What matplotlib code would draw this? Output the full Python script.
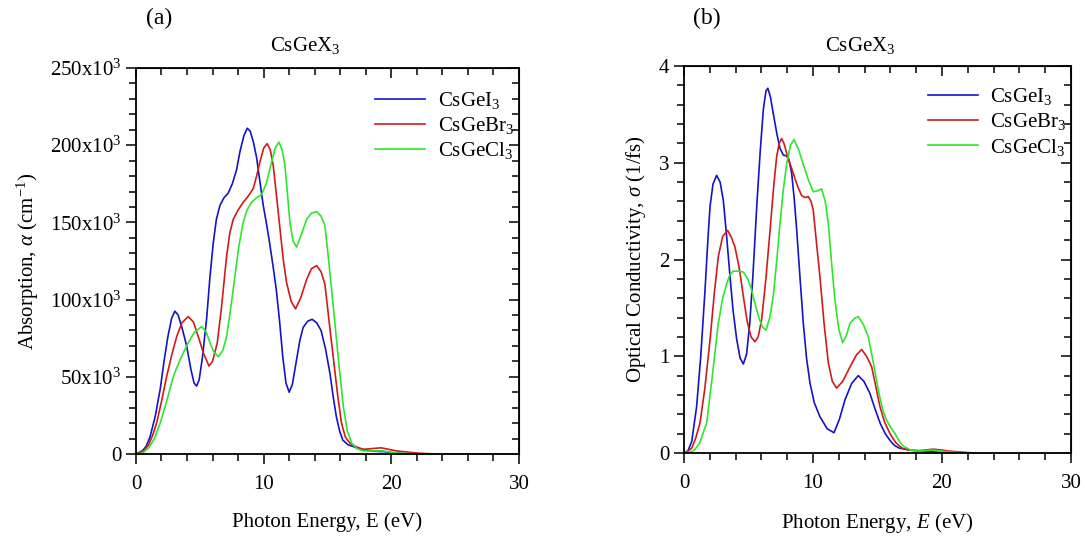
import matplotlib
matplotlib.use("Agg")
import matplotlib.pyplot as plt
from matplotlib.ticker import MultipleLocator, FuncFormatter

plt.rcParams["font.family"] = ["Liberation Serif", "DejaVu Serif"]
plt.rcParams["mathtext.fontset"] = "custom"
plt.rcParams["mathtext.rm"] = "Liberation Serif"
plt.rcParams["mathtext.it"] = "Liberation Serif:italic"

# (a) absorption: photon energy (eV) and alpha (cm^-1)
abs_i_e = [0, 0.5, 0.8, 1.1, 1.5, 1.9, 2.2, 2.5, 2.8, 3.05, 3.3, 3.6, 3.97, 4.3, 4.55, 4.75,
           4.95, 5.2, 5.54, 5.8, 6.06, 6.3, 6.58, 6.9, 7.23, 7.55, 7.88, 8.15, 8.45, 8.72,
           8.95, 9.2, 9.45, 9.7, 9.97, 10.25, 10.5, 10.75, 11.0, 11.25, 11.5, 11.75, 12.0,
           12.25, 12.6, 12.85, 13.1, 13.45, 13.8, 14.15, 14.5, 14.85, 15.2, 15.45, 15.7,
           15.95, 16.2, 16.6, 17.3, 18.0, 18.6, 19.5, 20.4, 21.5]
abs_i_v = [0, 2e3, 5e3, 11e3, 24e3, 42e3, 60e3, 76e3, 88e3, 92.5e3, 90e3, 82e3, 70e3, 55e3,
           46e3, 44e3, 48e3, 62e3, 88e3, 115e3, 137e3, 152e3, 161e3, 166e3, 169e3, 175e3,
           184e3, 196e3, 206e3, 211e3, 209e3, 202e3, 192e3, 177e3, 161e3, 148e3, 135e3,
           121e3, 106e3, 86e3, 63e3, 46e3, 40e3, 45e3, 62e3, 74e3, 82e3, 86e3, 87.2e3,
           85e3, 80e3, 68e3, 52e3, 37e3, 24e3, 15e3, 9e3, 6e3, 4e3, 2.5e3, 1.8e3, 1.5e3,
           0.5e3, 0]

abs_br_e = [0, 0.6, 1.0, 1.3, 1.62, 2.0, 2.4, 2.8, 3.19, 3.6, 4.1, 4.5, 4.88, 5.3, 5.72, 6.0,
            6.37, 6.7, 7.1, 7.35, 7.62, 8.0, 8.4, 8.8, 9.19, 9.45, 9.71, 10.0, 10.28, 10.52,
            10.75, 11.0, 11.28, 11.55, 11.8, 12.15, 12.5, 12.9, 13.37, 13.75, 14.15, 14.5,
            14.8, 15.1, 15.45, 15.8, 16.1, 16.4, 16.76, 17.3, 17.8, 18.5, 19.2, 19.8, 20.4,
            22.0, 23.4]
abs_br_v = [0, 2e3, 6e3, 12e3, 20e3, 34e3, 50e3, 64e3, 76e3, 85e3, 89e3, 85.5e3, 76e3, 65e3,
            57e3, 60e3, 72e3, 95e3, 128e3, 143e3, 152e3, 158e3, 163e3, 167e3, 172e3, 180e3,
            189e3, 198e3, 201e3, 197e3, 187e3, 168e3, 146e3, 125e3, 111e3, 99e3, 94e3,
            101e3, 113e3, 120e3, 122e3, 118e3, 110e3, 88e3, 63e3, 38e3, 20e3, 11e3, 7e3,
            4.5e3, 3e3, 3.5e3, 4e3, 3e3, 2e3, 0.6e3, 0]

abs_cl_e = [0, 0.5, 1.0, 1.45, 1.9, 2.4, 2.92, 3.45, 3.97, 4.3, 4.6, 5.14, 5.5, 5.8, 6.1, 6.45,
            6.8, 7.1, 7.4, 7.75, 8.05, 8.4, 8.7, 9.06, 9.45, 9.84, 10.2, 10.5, 10.9, 11.2,
            11.45, 11.67, 11.85, 12.06, 12.3, 12.58, 12.95, 13.37, 13.75, 14.15, 14.5, 14.8,
            15.1, 15.45, 15.85, 16.24, 16.55, 16.9, 17.3, 17.8, 19.3, 20.5, 22.0, 30.0]
abs_cl_v = [0, 0.5e3, 4e3, 10e3, 20e3, 34e3, 50e3, 61e3, 70e3, 75e3, 79e3, 82.5e3, 79e3,
            72e3, 66e3, 63e3, 67e3, 76e3, 93e3, 115e3, 134e3, 150e3, 158e3, 163e3, 166e3,
            168e3, 175e3, 185e3, 198e3, 202e3, 197e3, 187e3, 170e3, 150e3, 138e3, 134e3,
            142e3, 152e3, 156e3, 157e3, 154e3, 148e3, 125e3, 96e3, 62e3, 31e3, 15e3, 7e3,
            3.5e3, 2e3, 2e3, 0.5e3, 0, 0]

# (b) optical conductivity: sigma (1/fs)
con_i_e = [0, 0.3, 0.6, 0.98, 1.3, 1.63, 1.85, 2.02, 2.25, 2.53, 2.8, 3.05, 3.3, 3.57, 3.8,
           4.08, 4.35, 4.6, 4.85, 5.1, 5.35, 5.64, 5.9, 6.15, 6.35, 6.5, 6.7, 6.92, 7.2, 7.44,
           7.7, 7.96, 8.15, 8.35, 8.55, 8.74, 9.0, 9.25, 9.5, 9.77, 10.1, 10.54, 11.1, 11.63,
           12.05, 12.48, 13.0, 13.51, 13.95, 14.4, 14.8, 15.2, 15.6, 15.97, 16.3, 16.7, 17.5,
           18.3, 19.5, 21.0]
con_i_v = [0, 0.02, 0.12, 0.48, 1.0, 1.68, 2.2, 2.55, 2.78, 2.87, 2.8, 2.61, 2.25, 1.82,
           1.48, 1.18, 0.98, 0.92, 1.02, 1.34, 1.85, 2.55, 3.1, 3.55, 3.74, 3.77, 3.68, 3.51,
           3.3, 3.15, 3.08, 3.07, 3.02, 2.89, 2.62, 2.3, 1.8, 1.34, 0.98, 0.72, 0.52, 0.375,
           0.25, 0.21, 0.35, 0.55, 0.72, 0.8, 0.74, 0.62, 0.46, 0.31, 0.2, 0.13, 0.08, 0.05,
           0.03, 0.02, 0.01, 0]

con_br_e = [0, 0.3, 0.6, 0.9, 1.24, 1.6, 2.02, 2.35, 2.66, 3.0, 3.39, 3.7, 3.95, 4.3, 4.6, 4.9,
            5.2, 5.5, 5.75, 6.02, 6.35, 6.67, 6.95, 7.18, 7.38, 7.57, 7.75, 7.96, 8.2, 8.47,
            8.8, 9.12, 9.4, 9.64, 9.85, 10.02, 10.25, 10.54, 10.85, 11.19, 11.5, 11.83, 12.3,
            12.87, 13.35, 13.77, 14.15, 14.55, 14.85, 15.19, 15.55, 15.97, 16.4, 16.9, 17.5,
            18.3, 19.33, 20.0, 20.5, 21.5, 22.5]
con_br_v = [0, 0.02, 0.05, 0.15, 0.31, 0.65, 1.17, 1.65, 2.03, 2.24, 2.3, 2.22, 2.13, 1.9,
            1.62, 1.36, 1.2, 1.15, 1.2, 1.38, 1.8, 2.3, 2.75, 3.06, 3.2, 3.25, 3.2, 3.1, 3.0,
            2.89, 2.76, 2.66, 2.64, 2.65, 2.6, 2.51, 2.2, 1.82, 1.35, 0.93, 0.74, 0.67, 0.74,
            0.89, 1.01, 1.07, 1.0, 0.89, 0.7, 0.48, 0.32, 0.2, 0.11, 0.05, 0.03, 0.025, 0.04,
            0.03, 0.02, 0.01, 0]

con_cl_e = [0, 0.5, 0.8, 1.2, 1.76, 2.2, 2.66, 3.0, 3.31, 3.55, 3.82, 4.2, 4.6, 4.95, 5.25,
            5.55, 5.85, 6.1, 6.36, 6.65, 6.92, 7.2, 7.44, 7.7, 7.96, 8.25, 8.53, 8.9, 9.25,
            9.65, 10.02, 10.35, 10.67, 10.95, 11.19, 11.45, 11.7, 12.0, 12.3, 12.6, 12.87,
            13.2, 13.51, 13.9, 14.29, 14.7, 15.06, 15.4, 15.7, 16.0, 16.36, 16.7, 17.0, 17.6,
            18.3, 19.3, 20.5, 22.0, 30.0]
con_cl_v = [0, 0.01, 0.03, 0.1, 0.31, 0.8, 1.34, 1.6, 1.75, 1.84, 1.88, 1.88, 1.87, 1.8, 1.68,
            1.52, 1.38, 1.3, 1.27, 1.4, 1.62, 2.0, 2.37, 2.72, 2.99, 3.18, 3.24, 3.13, 2.98,
            2.82, 2.7, 2.71, 2.73, 2.6, 2.37, 1.95, 1.58, 1.28, 1.14, 1.22, 1.34, 1.39, 1.41,
            1.33, 1.2, 0.92, 0.65, 0.45, 0.34, 0.27, 0.2, 0.12, 0.07, 0.03, 0.02, 0.03, 0.01,
            0, 0]

BLUE = "#1414c8"
RED = "#d21a1a"
GREEN = "#2ee62e"

fig = plt.figure(figsize=(10.85, 5.37), dpi=100)
ax_a = fig.add_axes([0.1253, 0.1546, 0.3530, 0.7188])
ax_b = fig.add_axes([0.6304, 0.1564, 0.3567, 0.7207])


def style_axes(ax, ymax, ymajor, yminor):
    ax.set_xlim(0, 30)
    ax.set_ylim(0, ymax)
    ax.xaxis.set_major_locator(MultipleLocator(10))
    ax.xaxis.set_minor_locator(MultipleLocator(2))
    ax.yaxis.set_major_locator(MultipleLocator(ymajor))
    ax.yaxis.set_minor_locator(MultipleLocator(yminor))
    ax.tick_params(which="both", direction="out", labelsize=15, width=1.1)
    ax.tick_params(which="major", length=7)
    ax.tick_params(which="minor", length=5)
    ax.tick_params(axis="x", pad=8)
    for s in ax.spines.values():
        s.set_linewidth(1.3)
    top = ax.secondary_xaxis("top")
    top.xaxis.set_major_locator(MultipleLocator(10))
    top.xaxis.set_minor_locator(MultipleLocator(2))
    top.tick_params(which="both", direction="in", labeltop=False, width=1.1)
    top.tick_params(which="major", length=7)
    top.tick_params(which="minor", length=5)
    right = ax.secondary_yaxis("right")
    right.yaxis.set_major_locator(MultipleLocator(ymajor))
    right.yaxis.set_minor_locator(MultipleLocator(yminor))
    right.tick_params(which="both", direction="in", labelright=False, width=1.1)
    right.tick_params(which="major", length=7)
    right.tick_params(which="minor", length=5)


# panel (a)
ax_a.plot(abs_i_e, abs_i_v, color=BLUE, lw=1.2, label="CsGeI$_3$", clip_on=False)
ax_a.plot(abs_br_e, abs_br_v, color=RED, lw=1.2, label="CsGeBr$_3$", clip_on=False)
ax_a.plot(abs_cl_e, abs_cl_v, color=GREEN, lw=1.2, label="CsGeCl$_3$", clip_on=False)
style_axes(ax_a, 250e3, 50e3, 10e3)
ax_a.yaxis.set_major_formatter(
    FuncFormatter(lambda v, p: "0" if v == 0 else f"{int(round(v / 1e3))}x10$^3$"))
ax_a.set_xlabel("Photon Energy, E (eV)", fontsize=15, labelpad=13)
ax_a.set_ylabel(r"Absorption, $\alpha$ (cm$^{-1}$)", fontsize=15, labelpad=6)
ax_a.legend(loc="upper right", frameon=False, fontsize=15, handlelength=2.4,
            handletextpad=0.6, labelspacing=0.2, borderaxespad=0.2,
            bbox_to_anchor=(1.02, 0.975))

# panel (b)
ax_b.plot(con_i_e, con_i_v, color=BLUE, lw=1.2, label="CsGeI$_3$", clip_on=False)
ax_b.plot(con_br_e, con_br_v, color=RED, lw=1.2, label="CsGeBr$_3$", clip_on=False)
ax_b.plot(con_cl_e, con_cl_v, color=GREEN, lw=1.2, label="CsGeCl$_3$", clip_on=False)
style_axes(ax_b, 4, 1, 0.2)
ax_b.set_xlabel("Photon Energy, $\\it{E}$ (eV)", fontsize=15, labelpad=13)
ax_b.set_ylabel(r"Optical Conductivity, $\it{\sigma}$ (1/fs)", fontsize=15, labelpad=8)
ax_b.legend(loc="upper right", frameon=False, fontsize=15, handlelength=2.4,
            handletextpad=0.6, labelspacing=0.2, borderaxespad=0.2,
            bbox_to_anchor=(1.02, 0.98))

fig.text(305 / 1085, 1 - 46 / 537, "CsGeX$_3$", fontsize=15, ha="center", va="center")
fig.text(860 / 1085, 1 - 46 / 537, "CsGeX$_3$", fontsize=15, ha="center", va="center")
fig.text(159 / 1085, 1 - 18 / 537, "(a)", fontsize=17, ha="center", va="center")
fig.text(707 / 1085, 1 - 18 / 537, "(b)", fontsize=17, ha="center", va="center")

fig.savefig("out.png", dpi=100)
plt.close(fig)
